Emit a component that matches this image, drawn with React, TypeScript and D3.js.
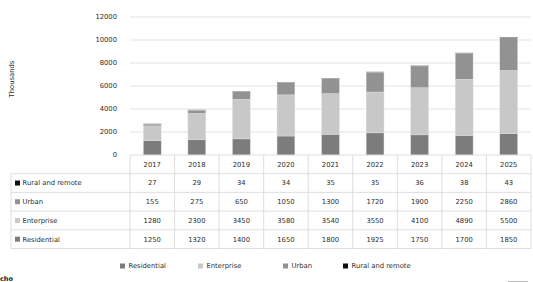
import React from 'react';
import * as d3 from 'd3';

// values (thousands)
const years = ['2017', '2018', '2019', '2020', '2021', '2022', '2023', '2024', '2025'];
const residential = [1250, 1320, 1400, 1650, 1800, 1925, 1750, 1700, 1850];
const enterprise = [1280, 2300, 3450, 3580, 3540, 3550, 4100, 4890, 5500];
const urban = [155, 275, 650, 1050, 1300, 1720, 1900, 2250, 2860];
const rural = [27, 29, 34, 34, 35, 35, 36, 38, 43];
const yTicks = [0, 2000, 4000, 6000, 8000, 10000, 12000];

const seriesNames = ['Residential', 'Enterprise', 'Urban', 'Rural and remote'];
const seriesValues = [residential, enterprise, urban, rural];
const colors = ['#7c7c7c', '#c8c8c8', '#929292', '#111111'];

const W = 533;
const H = 282;
const left = 130;
const right = 531;
const top = 17;
const base = 155;
const rowH = 18.7;
const labelLeft = 11;
const font = '"DejaVu Sans", sans-serif';
const fs = 6.8;
const textCol = '#2e2e2e';
const lineCol = '#d6d6d6';

const App: React.FC = () => {
  const x = d3.scaleBand().domain(years).range([left, right]).paddingInner(0).paddingOuter(0);
  const bw = x.bandwidth() * 0.4;
  const y = d3.scaleLinear().domain([0, 12000]).range([base, top]);

  const rows = years.map((yr, i) => {
    const r: any = { year: yr };
    seriesNames.forEach((n, k) => (r[n] = seriesValues[k][i]));
    return r;
  });
  const stacked = d3.stack<any>().keys(seriesNames)(rows);

  // table rows top-down: reverse of stack order
  const tableOrder = [3, 2, 1, 0];
  const tableBottom = base + rowH * 5;

  const legendX = [120, 198, 283, 343];

  return (
    <svg width={W} height={H} style={{ position: 'absolute', left: 0, top: 0, background: '#fff' }}
      fontFamily={font}>
      {/* gridlines */}
      {yTicks.map(t => (
        <g key={t}>
          {t > 0 && <line x1={left} x2={right} y1={y(t)} y2={y(t)} stroke="#dcdcdc" strokeWidth={0.8} />}
          <text x={117} y={y(t)} dy="0.35em" textAnchor="end" fontSize={fs} fill={textCol}>{t}</text>
        </g>
      ))}
      <text transform={`translate(14,${79}) rotate(-90)`} textAnchor="middle" fontSize={fs} fill={textCol}>
        Thousands
      </text>

      {/* bars */}
      {stacked.map((s, k) => (
        <g key={s.key} fill={colors[k]}>
          {s.map((d, i) => (
            <rect key={i} x={(x(years[i]) as number) + (x.bandwidth() - bw) / 2} width={bw}
              y={y(d[1])} height={Math.max(0, y(d[0]) - y(d[1]))}
              stroke="#e0e0e0" strokeWidth={0.4} />
          ))}
        </g>
      ))}

      {/* table grid */}
      <g stroke={lineCol} strokeWidth={0.8}>
        <line x1={left} x2={right} y1={base} y2={base} />
        {d3.range(1, 6).map(r => (
          <line key={r} x1={labelLeft} x2={right} y1={base + r * rowH} y2={base + r * rowH} />
        ))}
        <line x1={labelLeft} x2={labelLeft} y1={base + rowH} y2={tableBottom} />
        {years.map(yr => (
          <line key={yr} x1={x(yr)} x2={x(yr)} y1={base} y2={tableBottom} />
        ))}
        <line x1={right} x2={right} y1={base} y2={tableBottom} />
      </g>

      {/* header */}
      {years.map(yr => (
        <text key={yr} x={(x(yr) as number) + x.bandwidth() / 2} y={base + rowH / 2} dy="0.35em"
          textAnchor="middle" fontSize={fs} fill={textCol}>{yr}</text>
      ))}

      {/* rows */}
      {tableOrder.map((k, r) => {
        const cy = base + rowH * (r + 1) + rowH / 2;
        return (
          <g key={k}>
            <rect x={15} y={cy - 2.5} width={5} height={5} fill={colors[k]} />
            <text x={22.5} y={cy} dy="0.35em" fontSize={fs} fill={textCol}>{seriesNames[k]}</text>
            {seriesValues[k].map((v, i) => (
              <text key={i} x={(x(years[i]) as number) + x.bandwidth() / 2} y={cy} dy="0.35em"
                textAnchor="middle" fontSize={fs} fill={textCol}>{v}</text>
            ))}
          </g>
        );
      })}

      {/* legend */}
      {[0, 1, 2, 3].map(k => (
        <g key={k}>
          <rect x={legendX[k]} y={263.5} width={5} height={5} fill={colors[k]} />
          <text x={legendX[k] + 8.5} y={266} dy="0.35em" fontSize={fs} fill={textCol}>{seriesNames[k]}</text>
        </g>
      ))}

      {/* source text at bottom edge */}
      <text x={0} y={281} fontSize={6.5} fontWeight="bold" fill="#222">cho</text>
      <line x1={508} x2={528} y1={281.5} y2={281.5} stroke="#bbb" strokeWidth={1} />
    </svg>
  );
};

export default App;
